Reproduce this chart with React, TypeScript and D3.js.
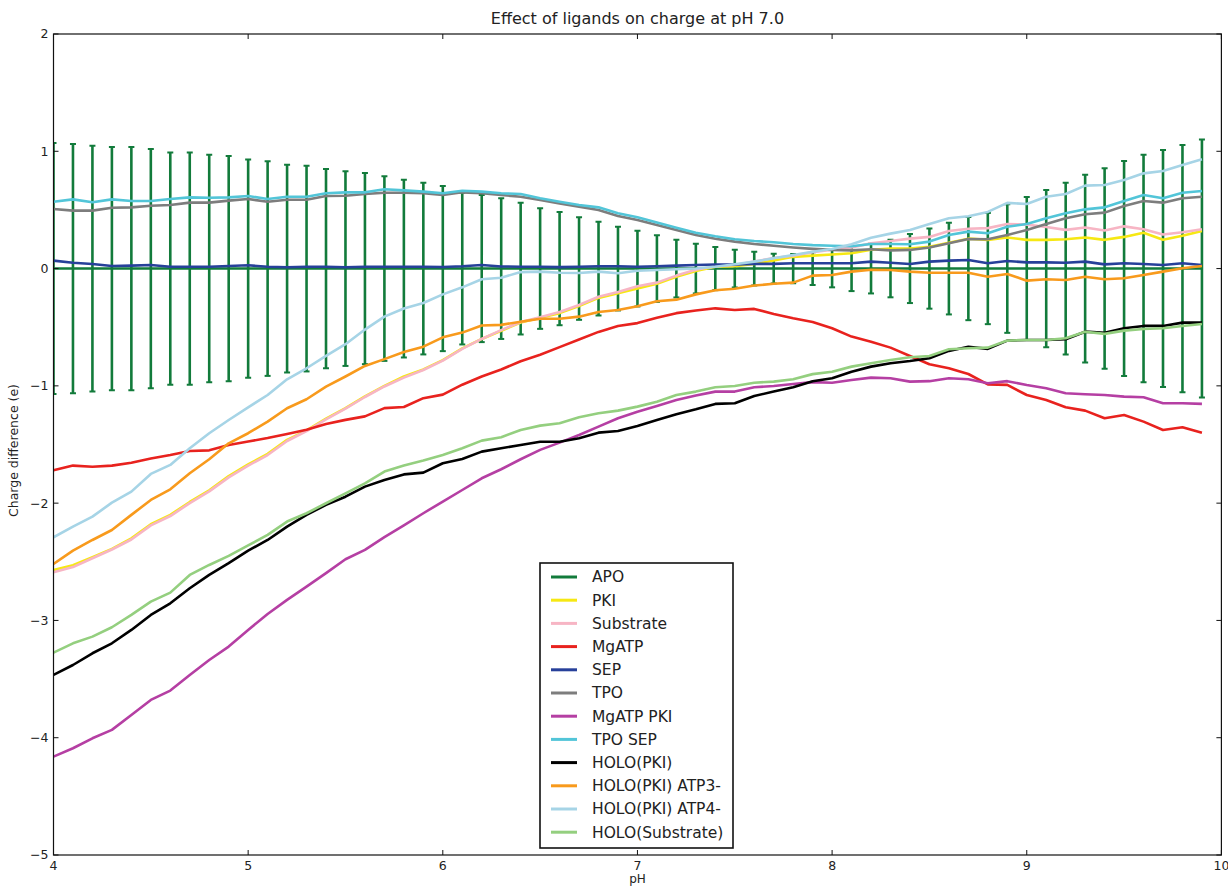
import React from "react";
import { scaleLinear, line } from "d3";

const width = 1228;
const height = 886;
const margin = { top: 34, right: 6.6, bottom: 31, left: 53.5 };
const innerWidth = width - margin.left - margin.right;
const innerHeight = height - margin.top - margin.bottom;

const pH = [
  4.0, 4.1, 4.2, 4.3, 4.4, 4.5, 4.6, 4.7, 4.8, 4.9,
  5.0, 5.1, 5.2, 5.3, 5.4, 5.5, 5.6, 5.7, 5.8, 5.9,
  6.0, 6.1, 6.2, 6.3, 6.4, 6.5, 6.6, 6.7, 6.8, 6.9,
  7.0, 7.1, 7.2, 7.3, 7.4, 7.5, 7.6, 7.7, 7.8, 7.9,
  8.0, 8.1, 8.2, 8.3, 8.4, 8.5, 8.6, 8.7, 8.8, 8.9,
  9.0, 9.1, 9.2, 9.3, 9.4, 9.5, 9.6, 9.7, 9.8, 9.9,
];

const apo = [
  0, 0, 0, 0, 0, 0, 0, 0, 0, 0, 0, 0, 0, 0, 0, 0, 0, 0, 0, 0,
  0, 0, 0, 0, 0, 0, 0, 0, 0, 0, 0, 0, 0, 0, 0, 0, 0, 0, 0, 0,
  0, 0, 0, 0, 0, 0, 0, 0, 0, 0, 0, 0, 0, 0, 0, 0, 0, 0, 0, 0,
];
const apoError = [
  1.07, 1.062, 1.048, 1.037, 1.037, 1.02, 0.99, 0.99, 0.97, 0.96,
  0.93, 0.915, 0.886, 0.877, 0.85, 0.83, 0.815, 0.787, 0.758, 0.732,
  0.704, 0.647, 0.627, 0.6, 0.562, 0.514, 0.483, 0.437, 0.4, 0.357,
  0.323, 0.284, 0.246, 0.212, 0.184, 0.161, 0.144, 0.127, 0.125, 0.14,
  0.16, 0.192, 0.212, 0.245, 0.294, 0.342, 0.391, 0.44, 0.474, 0.548,
  0.61, 0.67, 0.732, 0.8, 0.855, 0.917, 0.97, 1.01, 1.054, 1.1,
];
const pki = [
  -2.57, -2.53, -2.46, -2.39, -2.3, -2.18, -2.1, -1.99, -1.89, -1.77,
  -1.67, -1.58, -1.46, -1.38, -1.28, -1.19, -1.09, -1.0, -0.92, -0.86,
  -0.78, -0.68, -0.6, -0.53, -0.46, -0.42, -0.38, -0.32, -0.25, -0.21,
  -0.17, -0.13, -0.07, -0.02, 0.015, 0.02, 0.04, 0.07, 0.1, 0.11,
  0.12, 0.13, 0.16, 0.17, 0.17, 0.185, 0.22, 0.255, 0.245, 0.265,
  0.245, 0.245, 0.25, 0.265, 0.245, 0.27, 0.305, 0.245, 0.28, 0.32,
];
const substrate = [
  -2.59, -2.545, -2.47, -2.395, -2.31, -2.19, -2.11, -2.0, -1.9, -1.78,
  -1.68, -1.59, -1.47, -1.385, -1.285, -1.195, -1.095, -1.005, -0.93, -0.865,
  -0.785, -0.685, -0.6, -0.525, -0.455, -0.415, -0.37, -0.31, -0.24, -0.2,
  -0.15, -0.12, -0.06, -0.01, 0.02, 0.03, 0.06, 0.09, 0.11, 0.14,
  0.16, 0.18, 0.215, 0.235, 0.255, 0.27, 0.32, 0.34, 0.345, 0.38,
  0.375, 0.355, 0.33, 0.35, 0.325, 0.36, 0.335, 0.29, 0.31, 0.335,
];
const mgatp = [
  -1.72, -1.68, -1.69, -1.68, -1.655, -1.62, -1.59, -1.555, -1.55, -1.505,
  -1.475, -1.445, -1.41, -1.375, -1.325, -1.29, -1.26, -1.19, -1.18, -1.105,
  -1.075, -0.99, -0.92, -0.86, -0.79, -0.735, -0.67, -0.605, -0.54, -0.49,
  -0.465, -0.42, -0.38, -0.357, -0.339, -0.353, -0.344, -0.387, -0.424, -0.455,
  -0.509, -0.58, -0.623, -0.674, -0.745, -0.816, -0.85, -0.899, -0.987, -0.992,
  -1.078, -1.12, -1.182, -1.211, -1.276, -1.248, -1.305, -1.376, -1.353, -1.4,
];
const sep = [
  0.068, 0.05, 0.039, 0.022, 0.025, 0.031, 0.016, 0.016, 0.016, 0.022,
  0.028, 0.016, 0.011, 0.016, 0.016, 0.011, 0.016, 0.016, 0.016, 0.016,
  0.014, 0.02, 0.031, 0.018, 0.016, 0.016, 0.012, 0.016, 0.02, 0.02,
  0.016, 0.02, 0.025, 0.03, 0.035, 0.035, 0.04, 0.04, 0.045, 0.045,
  0.045, 0.045, 0.059, 0.05, 0.039, 0.059, 0.068, 0.073, 0.045, 0.065,
  0.053, 0.053, 0.05, 0.059, 0.036, 0.045, 0.039, 0.031, 0.045, 0.031,
];
const tpo = [
  0.508, 0.494, 0.494, 0.519, 0.522, 0.536, 0.542, 0.562, 0.562, 0.579,
  0.593, 0.57, 0.587, 0.587, 0.619, 0.621, 0.636, 0.647, 0.647, 0.642,
  0.627, 0.65, 0.642, 0.627, 0.613, 0.585, 0.556, 0.528, 0.499, 0.448,
  0.414, 0.372, 0.329, 0.286, 0.255, 0.23, 0.21, 0.195, 0.18, 0.168,
  0.159, 0.155, 0.165, 0.155, 0.159, 0.18, 0.216, 0.252, 0.25, 0.286,
  0.329, 0.38, 0.429, 0.463, 0.477, 0.534, 0.576, 0.562, 0.599, 0.613,
];
const mgatpPki = [
  -4.161, -4.09, -4.005, -3.933, -3.806, -3.678, -3.598, -3.465, -3.337, -3.223,
  -3.081, -2.945, -2.825, -2.712, -2.597, -2.478, -2.399, -2.29, -2.19, -2.086,
  -1.987, -1.888, -1.788, -1.711, -1.626, -1.546, -1.484, -1.419, -1.348, -1.276,
  -1.22, -1.171, -1.12, -1.083, -1.049, -1.049, -1.012, -1.001, -0.984, -0.968,
  -0.973, -0.95, -0.93, -0.935, -0.964, -0.96, -0.935, -0.944, -0.978, -0.96,
  -0.992, -1.02, -1.063, -1.072, -1.078, -1.092, -1.097, -1.148, -1.148, -1.154,
];
const tpoSep = [
  0.57, 0.59, 0.565, 0.59, 0.576, 0.576, 0.593, 0.607, 0.604, 0.607,
  0.619, 0.593, 0.613, 0.613, 0.642, 0.65, 0.65, 0.676, 0.667, 0.656,
  0.642, 0.664, 0.656, 0.642, 0.636, 0.599, 0.57, 0.542, 0.522, 0.471,
  0.437, 0.392, 0.349, 0.306, 0.275, 0.25, 0.235, 0.225, 0.21, 0.2,
  0.195, 0.19, 0.21, 0.21, 0.207, 0.23, 0.286, 0.315, 0.301, 0.357,
  0.38, 0.429, 0.471, 0.505, 0.522, 0.576, 0.627, 0.599, 0.647, 0.662,
];
const holoPki = [
  -3.465, -3.38, -3.28, -3.195, -3.081, -2.953, -2.854, -2.726, -2.612, -2.512,
  -2.405, -2.314, -2.2, -2.1, -2.015, -1.945, -1.859, -1.802, -1.755, -1.74,
  -1.66, -1.623, -1.561, -1.532, -1.504, -1.476, -1.476, -1.447, -1.399, -1.385,
  -1.342, -1.291, -1.242, -1.2, -1.154, -1.148, -1.086, -1.049, -1.012, -0.96,
  -0.935, -0.879, -0.836, -0.807, -0.788, -0.765, -0.702, -0.666, -0.685, -0.614,
  -0.609, -0.609, -0.603, -0.538, -0.547, -0.509, -0.489, -0.489, -0.461, -0.461,
];
const holoPkiAtp3 = [
  -2.518, -2.405, -2.314, -2.229, -2.1, -1.973, -1.882, -1.745, -1.626, -1.49,
  -1.404, -1.305, -1.191, -1.114, -1.007, -0.92, -0.83, -0.772, -0.712, -0.666,
  -0.586, -0.546, -0.485, -0.48, -0.453, -0.428, -0.428, -0.41, -0.37, -0.353,
  -0.322, -0.278, -0.265, -0.22, -0.185, -0.172, -0.145, -0.13, -0.12, -0.06,
  -0.055, -0.026, -0.01, -0.012, -0.026, -0.035, -0.035, -0.035, -0.069, -0.046,
  -0.103, -0.091, -0.097, -0.069, -0.091, -0.083, -0.055, -0.026, 0.003, 0.022,
];
const holoPkiAtp4 = [
  -2.291, -2.2, -2.115, -1.996, -1.902, -1.751, -1.674, -1.532, -1.404, -1.291,
  -1.183, -1.078, -0.944, -0.85, -0.745, -0.645, -0.52, -0.41, -0.34, -0.293,
  -0.22, -0.16, -0.091, -0.078, -0.03, -0.026, -0.035, -0.038, -0.026, -0.04,
  -0.018, -0.012, -0.006, 0.0, 0.016, 0.037, 0.059, 0.088, 0.116, 0.144,
  0.167, 0.207, 0.262, 0.298, 0.329, 0.38, 0.429, 0.446, 0.483, 0.56,
  0.55, 0.613, 0.636, 0.707, 0.713, 0.755, 0.812, 0.832, 0.883, 0.932,
];
const holoSubstrate = [
  -3.275, -3.195, -3.138, -3.058, -2.953, -2.84, -2.763, -2.612, -2.527, -2.45,
  -2.36, -2.271, -2.157, -2.086, -2.001, -1.916, -1.831, -1.731, -1.68, -1.637,
  -1.589, -1.532, -1.467, -1.438, -1.376, -1.339, -1.319, -1.268, -1.234, -1.211,
  -1.177, -1.135, -1.078, -1.049, -1.012, -1.001, -0.973, -0.964, -0.944, -0.9,
  -0.879, -0.836, -0.807, -0.779, -0.756, -0.745, -0.688, -0.68, -0.674, -0.614,
  -0.609, -0.609, -0.594, -0.538, -0.557, -0.529, -0.515, -0.509, -0.489, -0.472,
];

const xTicks = [4, 5, 6, 7, 8, 9, 10];
const yTicks = [2, 1, 0, -1, -2, -3, -4, -5];

const series = [
  { name: "APO", values: apo, color: "#127b3b" },
  { name: "PKI", values: pki, color: "#f6e813" },
  { name: "Substrate", values: substrate, color: "#f7b5c4" },
  { name: "MgATP", values: mgatp, color: "#e8221e" },
  { name: "SEP", values: sep, color: "#27409a" },
  { name: "TPO", values: tpo, color: "#7d7d7d" },
  { name: "MgATP PKI", values: mgatpPki, color: "#b53fa3" },
  { name: "TPO SEP", values: tpoSep, color: "#52c5d8" },
  { name: "HOLO(PKI)", values: holoPki, color: "#000000" },
  { name: "HOLO(PKI) ATP3-", values: holoPkiAtp3, color: "#f89a1c" },
  { name: "HOLO(PKI) ATP4-", values: holoPkiAtp4, color: "#a6d4e6" },
  { name: "HOLO(Substrate)", values: holoSubstrate, color: "#94cf7f" },
];

const font = "'DejaVu Sans', sans-serif";

export default function App() {
  const x = scaleLinear().domain([4, 10]).range([0, innerWidth]);
  const y = scaleLinear().domain([-5, 2]).range([innerHeight, 0]);

  const makeLine = (values: number[]) =>
    line<number>()
      .x((_, i) => x(pH[i]))
      .y((d) => y(d))(values) as string;

  const fmt = (v: number) => (v < 0 ? `\u2212${Math.abs(v)}` : `${v}`);
  const apoColor = series[0].color;

  const legendX = 540;
  const legendY = 563;
  const legendW = 193;
  const legendH = 285;
  const rowH = 23.2;

  return (
    <svg
      width={width}
      height={height}
      style={{ position: "absolute", left: 0, top: 0, background: "#fff" }}
      fontFamily={font}
    >
      <defs>
        <clipPath id="plot">
          <rect x={0} y={0} width={innerWidth} height={innerHeight} />
        </clipPath>
      </defs>
      <text x={margin.left + innerWidth / 2} y={24} textAnchor="middle" fontSize={16} fill="#222">
        Effect of ligands on charge at pH 7.0
      </text>
      <g transform={`translate(${margin.left},${margin.top})`}>
        <g clipPath="url(#plot)">
          {/* APO with error bars */}
          <path d={makeLine(apo)} fill="none" stroke={apoColor} strokeWidth={2.6} />
          {pH.map((p, i) => (
            <g key={p} stroke={apoColor} strokeWidth={2.6}>
              <line x1={x(p)} x2={x(p)} y1={y(apo[i] + apoError[i])} y2={y(apo[i] - apoError[i])} />
              <line x1={x(p) - 3} x2={x(p) + 3} y1={y(apo[i] + apoError[i])} y2={y(apo[i] + apoError[i])} strokeWidth={2} />
              <line x1={x(p) - 3} x2={x(p) + 3} y1={y(apo[i] - apoError[i])} y2={y(apo[i] - apoError[i])} strokeWidth={2} />
            </g>
          ))}
          {series.slice(1).map((s) => (
            <path
              key={s.name}
              d={makeLine(s.values)}
              fill="none"
              stroke={s.color}
              strokeWidth={2.6}
              strokeLinejoin="round"
            />
          ))}
        </g>
        {/* frame */}
        <rect x={0} y={0} width={innerWidth} height={innerHeight} fill="none" stroke="#111" strokeWidth={1.2} />
        {xTicks.map((t) => (
          <g key={t} transform={`translate(${x(t)},0)`}>
            <line y1={0} y2={5} stroke="#111" />
            <line y1={innerHeight} y2={innerHeight - 5} stroke="#111" />
            <text y={innerHeight + 15} textAnchor="middle" fontSize={12.5} fill="#222">
              {t}
            </text>
          </g>
        ))}
        {yTicks.map((t) => (
          <g key={t} transform={`translate(0,${y(t)})`}>
            <line x1={0} x2={5} stroke="#111" />
            <line x1={innerWidth} x2={innerWidth - 5} stroke="#111" />
            <text x={-5} dy="0.35em" textAnchor="end" fontSize={12.5} fill="#222">
              {fmt(t)}
            </text>
          </g>
        ))}
        <text
          transform={`translate(${-36},${innerHeight / 2 + 6}) rotate(-90)`}
          textAnchor="middle"
          fontSize={12.5}
          fill="#222"
        >
          Charge difference (e)
        </text>
        <text x={innerWidth / 2} y={innerHeight + 28} textAnchor="middle" fontSize={12} fill="#222">
          pH
        </text>
      </g>
      {/* legend */}
      <g transform={`translate(${legendX},${legendY})`}>
        <rect width={legendW} height={legendH} fill="#fff" stroke="#111" strokeWidth={1.6} />
        {series.map((s, i) => (
          <g key={s.name} transform={`translate(0,${14 + i * rowH})`}>
            <line x1={11} x2={37} stroke={s.color} strokeWidth={3} />
            <text x={52} dy="0.35em" fontSize={15.5} fill="#222">
              {s.name}
            </text>
          </g>
        ))}
      </g>
    </svg>
  );
}
